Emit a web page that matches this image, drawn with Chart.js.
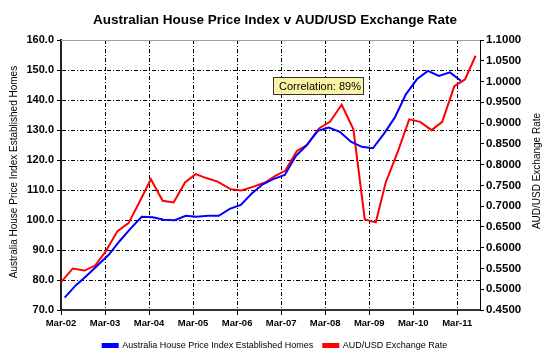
<!DOCTYPE html>
<html>
<head>
<meta charset="utf-8">
<script src="https://cdn.jsdelivr.net/npm/chart.js@4/dist/chart.umd.min.js"></script>
<style>
html,body{margin:0;padding:0;background:#fff;}
#wrap{width:550px;height:357px;position:relative;}
</style>
</head>
<body>
<div id="wrap"><canvas id="c" width="550" height="357"></canvas></div>
<script>
// ---------- data ----------
const chartTitle = 'Australian House Price Index v AUD/USD Exchange Rate';
const leftAxisTitle = 'Australia House Price Index Established Homes';
const rightAxisTitle = 'AUD/USD Exchange Rate';
const houseLabel = 'Australia House Price Index Established Homes';
const audLabel = 'AUD/USD Exchange Rate';
const annotationText = 'Correlation: 89%';

// x axis: months since Mar-02
const xTickMonths = [0, 12, 24, 36, 48, 60, 72, 84, 96, 108];
const xTickLabels = ['Mar-02','Mar-03','Mar-04','Mar-05','Mar-06','Mar-07','Mar-08','Mar-09','Mar-10','Mar-11'];
const leftTicks = [70, 80, 90, 100, 110, 120, 130, 140, 150, 160];
const rightTicks = [0.45, 0.50, 0.55, 0.60, 0.65, 0.70, 0.75, 0.80, 0.85, 0.90, 0.95, 1.00, 1.05, 1.10];

// House price index (quarterly, plotted at quarter end)
const houseMonths = [1,4,7,10,13,16,19,22,25,28,31,34,37,40,43,46,49,52,55,58,61,64,67,70,73,76,79,82,85,88,91,94,97,100,103,106,109];
const houseIndex = [74.1,78.2,81.4,84.9,88.4,93.0,97.2,101.1,100.9,100.1,99.9,101.4,101.1,101.4,101.4,103.7,105.0,108.8,111.9,113.7,115.0,121.3,125.0,129.7,130.8,129.4,126.1,124.4,123.9,128.7,134.2,141.9,146.9,149.7,148.0,149.2,146.4];

// AUD/USD exchange rate
const audMonths = [0,3.2,6.4,9.3,12.1,15.4,18.4,21.5,24.5,27.7,30.7,33.8,36.7,39.8,42.7,46.2,49.2,52.5,55.6,58.4,61.1,64.3,67.0,70.3,73.3,76.5,79.7,82.8,85.8,88.5,91.8,94.9,97.9,101.0,103.9,107.2,110.1,113.0];
const audUsd = [0.517,0.550,0.545,0.557,0.590,0.640,0.659,0.712,0.765,0.713,0.709,0.757,0.777,0.767,0.759,0.741,0.738,0.747,0.757,0.773,0.785,0.833,0.847,0.887,0.903,0.944,0.885,0.668,0.661,0.757,0.831,0.909,0.903,0.883,0.903,0.989,1.005,1.062];

// annotation box in data coordinates (months, left-axis value)
const annX = [57.8, 82.2];
const annY = [147.8, 142.0];

// ---------- chart ----------
const FONT = "'Liberation Sans', Arial, sans-serif";
Chart.defaults.font.family = FONT;
Chart.defaults.color = '#000';

const gridDash = [4, 2, 1, 2];

const decor = {
  id: 'decor',
  beforeDatasetsDraw(chart) {
    const {ctx, chartArea: a} = chart;
    ctx.save();
    ctx.strokeStyle = '#a0a0a0';
    ctx.lineWidth = 1;
    ctx.beginPath();
    ctx.moveTo(a.left, a.top + 0.5);
    ctx.lineTo(a.right, a.top + 0.5);
    ctx.stroke();
    ctx.restore();
  },
  afterDraw(chart) {
    const {ctx, scales} = chart;
    ctx.save();
    // axis titles
    ctx.font = '10px ' + FONT;
    ctx.fillStyle = '#000';
    ctx.textAlign = 'center';
    ctx.textBaseline = 'middle';
    ctx.save();
    ctx.translate(14, 172);
    ctx.rotate(-Math.PI / 2);
    ctx.fillText(leftAxisTitle, 0, 0);
    ctx.restore();
    ctx.save();
    ctx.translate(537.5, 171);
    ctx.rotate(-Math.PI / 2);
    ctx.fillText(rightAxisTitle, 0, 0);
    ctx.restore();
    // annotation box
    const x1 = Math.round(scales.x.getPixelForValue(annX[0])) + 0.5;
    const x2 = Math.round(scales.x.getPixelForValue(annX[1])) + 0.5;
    const y1 = Math.round(scales.y.getPixelForValue(annY[0])) + 0.5;
    const y2 = Math.round(scales.y.getPixelForValue(annY[1])) + 0.5;
    ctx.fillStyle = '#FAF3A4';
    ctx.fillRect(x1, y1, x2 - x1, y2 - y1);
    ctx.strokeStyle = '#333';
    ctx.lineWidth = 1;
    ctx.strokeRect(x1, y1, x2 - x1, y2 - y1);
    ctx.fillStyle = '#000';
    ctx.font = '11px ' + FONT;
    ctx.fillText(annotationText, (x1 + x2) / 2 + 1.5, (y1 + y2) / 2 + 0.5);
    ctx.restore();
  }
};

new Chart(document.getElementById('c'), {
  type: 'line',
  data: {
    datasets: [
      {
        label: houseLabel,
        data: houseMonths.map((m, i) => ({x: m, y: houseIndex[i]})),
        borderColor: '#0000FF',
        backgroundColor: '#0000FF',
        borderWidth: 2,
        pointRadius: 0,
        tension: 0,
        yAxisID: 'y'
      },
      {
        label: audLabel,
        data: audMonths.map((m, i) => ({x: m, y: audUsd[i]})),
        borderColor: '#FF0000',
        backgroundColor: '#FF0000',
        borderWidth: 2,
        pointRadius: 0,
        tension: 0,
        yAxisID: 'y1'
      }
    ]
  },
  options: {
    responsive: false,
    animation: false,
    devicePixelRatio: 1,
    layout: {padding: {left: 0, right: 0, top: 0, bottom: -3}},
    plugins: {
      title: {
        display: true,
        text: chartTitle,
        color: '#000',
        font: {size: 13.5, weight: 'bold'},
        padding: {top: 12.5, bottom: 11.3}
      },
      legend: {
        position: 'bottom',
        labels: {
          boxWidth: 15,
          boxHeight: 3,
          padding: 10,
          color: '#000',
          font: {size: 9}
        }
      },
      tooltip: {enabled: false}
    },
    scales: {
      x: {
        type: 'linear',
        min: 0,
        max: 114.2,
        afterBuildTicks: s => { s.ticks = xTickMonths.map(v => ({value: v})); },
        afterFit: s => { s.height = 21; },
        ticks: {
          autoSkip: false,
          maxRotation: 0,
          padding: 3,
          font: {size: 9.5, weight: 'bold'},
          callback: (v, i) => xTickLabels[i]
        },
        grid: {color: '#000', lineWidth: 1, tickLength: 5, tickColor: '#000', tickBorderDash: []},
        border: {display: true, color: '#333', width: 2, dash: gridDash}
      },
      y: {
        position: 'left',
        min: 70,
        max: 160,
        afterBuildTicks: s => { s.ticks = leftTicks.map(v => ({value: v})); },
        afterFit: s => { s.width = 61; },
        ticks: {
          padding: 3,
          font: {size: 11, weight: 'bold'},
          callback: v => Number(v).toFixed(1)
        },
        grid: {
          color: ctx => (ctx.tick && ctx.tick.value === 160) ? 'rgba(0,0,0,0)' : '#000',
          lineWidth: 1, tickLength: 4, tickColor: '#000', tickBorderDash: []
        },
        border: {display: true, color: '#222', width: 2, dash: gridDash}
      },
      y1: {
        position: 'right',
        min: 0.45,
        max: 1.1,
        afterBuildTicks: s => { s.ticks = rightTicks.map(v => ({value: v})); },
        afterFit: s => { s.width = 70; },
        ticks: {
          padding: 2,
          font: {size: 11.5, weight: 'bold'},
          callback: v => Number(v).toFixed(4)
        },
        grid: {drawOnChartArea: false, tickLength: 4, color: '#000', tickColor: '#000'},
        border: {display: true, color: '#000', width: 1}
      }
    }
  },
  plugins: [decor]
});
</script>
</body>
</html>
